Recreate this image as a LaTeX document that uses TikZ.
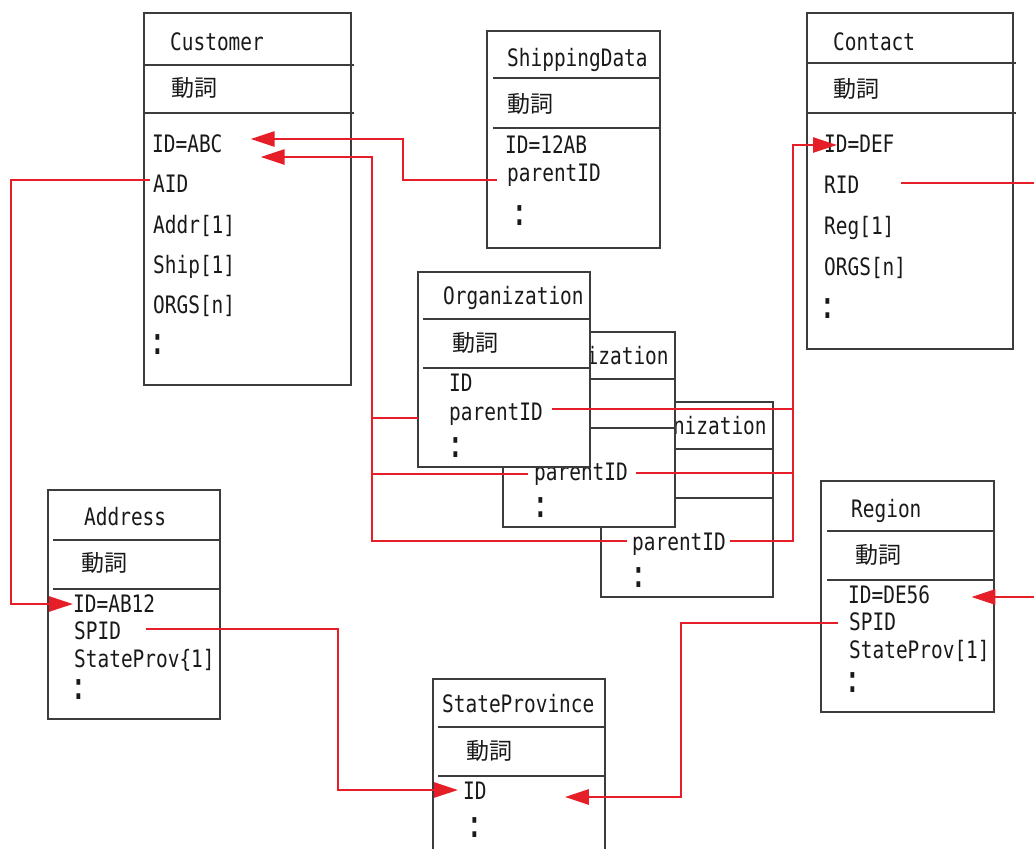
\documentclass[tikz,border=0pt]{standalone}
\usepackage{fontspec}
\setmainfont{DejaVu Sans Mono}[FakeStretch=0.81]
\newfontfamily\jpfont{Noto Sans CJK JP}
\usepackage{tikz}
\usetikzlibrary{arrows.meta}
\definecolor{boxgray}{RGB}{60,60,60}
\definecolor{linkred}{RGB}{230,30,40}
\newcommand{\fieldfont}{\fontsize{24}{28}\selectfont}
\newcommand{\vdot}{\scalebox{1.6}{:}}
\tikzset{
  box/.style={draw=boxgray,line width=1.4pt,fill=white},
  divider/.style={draw=boxgray,line width=1.4pt},
  field/.style={anchor=west,inner sep=0pt,text height=17.5pt,text depth=0pt,font=\fieldfont,text=black!90},
  verbtext/.style={anchor=west,inner sep=0pt,font=\jpfont\fontsize{23}{23}\selectfont,text=black!90},
  colondots/.style={inner sep=0pt,font=\fieldfont,text=black!90},
  link/.style={draw=linkred,line width=2.6pt},
}
% one Organization card, #2 = name, (#3,#4) = top left corner, #1 = verb line
\newcommand{\orgbox}[4][動詞]{%
  \begin{scope}[shift={(#3,#4)}]
    \draw[box] (0,0) rectangle (172,195);
    \draw[divider] (5,47) -- (172,47);
    \draw[divider] (5,96) -- (172,96);
    \node[field] (#2-title) at (25,24) {Organization};
    \node[verbtext] (#2-verb) at (34,71) {#1};
    \node[field] (#2-id) at (31,111) {ID};
    \node[field] (#2-pid) at (31,140) {parentID};
    \node[colondots] (#2-dots) at (38,176) {\vdot};
    \coordinate (#2-edge) at (0,146);
  \end{scope}}

\begin{document}
\begin{tikzpicture}[x=1pt,y=-1pt,>={Triangle[length=24pt,width=15pt]}]
\useasboundingbox (0,0) rectangle (1034,849);

% Customer
\draw[box] (144,13) rectangle (351,385);
\draw[divider] (144,65) -- (354,65);
\draw[divider] (144,113) -- (354,113);
\node[field] (cust) at (170,42) {Customer};
\node[verbtext] (cust-verb) at (171,88) {動詞};
\node[field] (cust-id) at (152,144) {ID=ABC};
\node[field] (cust-aid) at (153,184) {AID};
\node[field] (cust-addr) at (153,225) {Addr[1]};
\node[field] (cust-ship) at (153,265) {Ship[1]};
\node[field] (cust-orgs) at (153,305) {ORGS[n]};
\node[colondots] (cust-dots) at (158,345) {\vdot};

% ShippingData
\draw[box] (487,31) rectangle (660,248);
\draw[divider] (493,78) -- (660,78);
\draw[divider] (493,128) -- (660,128);
\node[field] (ship) at (507,58) {ShippingData};
\node[verbtext] (ship-verb) at (507,104) {動詞};
\node[field] (ship-id) at (505,145) {ID=12AB};
\node[field] (ship-pid) at (507,173) {parentID};
\node[colondots] (ship-dots) at (520,216) {\vdot};

% Contact
\draw[box] (807,13) rectangle (1013,349);
\draw[divider] (807,63) -- (1016,63);
\draw[divider] (807,113) -- (1016,113);
\node[field] (con) at (833,42) {Contact};
\node[verbtext] (con-verb) at (833,89) {動詞};
\node[field] (con-id) at (824,144) {ID=DEF};
\node[field] (con-rid) at (824,185) {RID};
\node[field] (con-reg) at (824,226) {Reg[1]};
\node[field] (con-orgs) at (824,267) {ORGS[n]};
\node[colondots] (con-dots) at (828,309) {\vdot};

% Organization, back to front
\orgbox[]{org3}{601}{402}
\orgbox{org2}{503}{332}
\orgbox{org1}{418}{272}

% Address
\draw[box] (48,490) rectangle (220,719);
\draw[divider] (53,540) -- (220,540);
\draw[divider] (53,589) -- (220,589);
\node[field] (addr) at (84,517) {Address};
\node[verbtext] (addr-verb) at (81,563) {動詞};
\node[field] (addr-id) at (73,604) {ID=AB12};
\node[field] (addr-spid) at (74,631) {SPID};
\node[field] (addr-sp) at (74,659) {StateProv\{1]};
\node[colondots] (addr-dots) at (79,690) {\vdot};

% Region
\draw[box] (821,481) rectangle (994,712);
\draw[divider] (827,531) -- (994,531);
\draw[divider] (827,580) -- (994,580);
\node[field] (reg) at (851,509) {Region};
\node[verbtext] (reg-verb) at (855,555) {動詞};
\node[field] (reg-id) at (848,595) {ID=DE56};
\node[field] (reg-spid) at (849,622) {SPID};
\node[field] (reg-sp) at (849,650) {StateProv[1]};
\node[colondots] (reg-dots) at (853,683) {\vdot};

% StateProvince (runs off the bottom)
\draw[box] (433,849) -- (433,679) -- (605,679) -- (605,849);
\draw[divider] (438,727) -- (605,727);
\draw[divider] (438,776) -- (605,776);
\node[field] (sp) at (442,704) {StateProvince};
\node[verbtext] (sp-verb) at (466,751) {動詞};
\node[field] (sp-id) at (463,791) {ID};
\node[colondots] (sp-dots) at (475,828) {\vdot};

% connectors
\coordinate (shipjog) at (403,160);
\coordinate (leftbus) at (11,400);
\coordinate (orgbus) at (372,300);
\coordinate (rightbus) at (793,300);
\coordinate (spjog) at (338,700);
\coordinate (regjog) at (681,700);
\coordinate (edgeC) at (1034,183);
\coordinate (edgeR) at (1034,597);

\draw[link,->] ([shift={(-10,7)}]ship-pid.west) -| (shipjog) |- ([shift={(28,-5)}]cust-id.east);
\draw[link,->] ([shift={(-5,-1)}]org3-pid.west) -| (orgbus) |- ([shift={(38,13)}]cust-id.east);
\draw[link] ([shift={(-6,2)}]org2-pid.west) -| (orgbus);
\draw[link] (org1-edge) -| (orgbus);
\draw[link,->] ([shift={(4,-1)}]org3-pid.east) -| (rightbus) |- ([shift={(13,1)}]con-id.west);
\draw[link] ([shift={(8,1)}]org2-pid.east) -| (rightbus);
\draw[link] ([shift={(9,-3)}]org1-pid.east) -| (rightbus);
\draw[link] ([shift={(41,-2)}]con-rid.east) -- (edgeC);
\draw[link,->] (edgeR) -- ([shift={(41,2)}]reg-id.east);
\draw[link,->] ([shift={(-3,-4)}]cust-aid.west) -| (leftbus) |- (addr-id.west);
\draw[link,->] ([shift={(25,-2)}]addr-spid.east) -| (spjog) |- ([shift={(-5,-1)}]sp-id.west);
\draw[link,->] ([shift={(-11,1)}]reg-spid.west) -| (regjog) |- ([shift={(78,6)}]sp-id.east);
\end{tikzpicture}
\end{document}
